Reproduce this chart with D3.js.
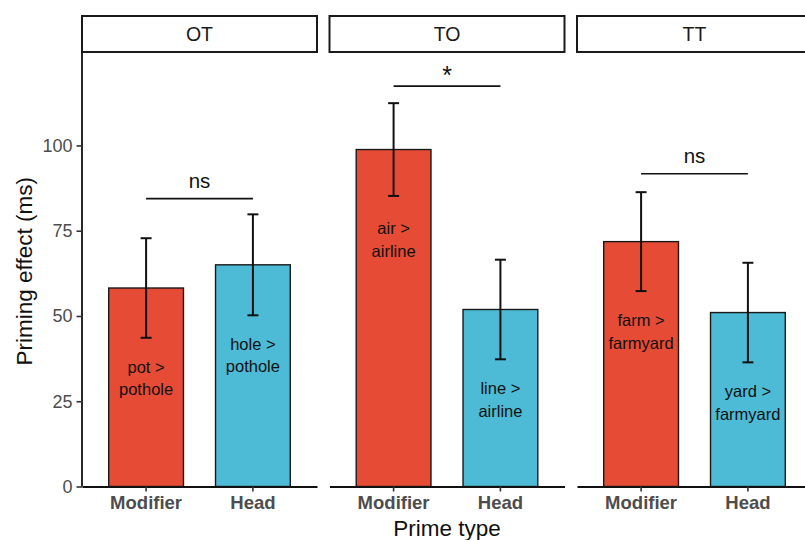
<!DOCTYPE html>
<html>
<head>
<meta charset="utf-8">
<script src="https://cdn.jsdelivr.net/npm/d3@7"></script>
<style>
  html, body { margin: 0; padding: 0; background: #fff; }
  svg { display: block; font-family: "Liberation Sans", Arial, Helvetica, sans-serif; }
</style>
</head>
<body>
<div id="chart"></div>
<script>
// Compound-word priming effects by prime type, faceted by transparency condition
const facets = ["OT", "TO", "TT"];
const primeTypes = ["Modifier", "Head"];
const modifierMeans = [58.2, 98.8, 71.8];
const headMeans = [65.0, 51.9, 51.0];
const modifierErr = [14.6, 13.6, 14.5];
const headErr = [14.8, 14.6, 14.6];
const modifierLabels = [["pot >", "pothole"], ["air >", "airline"], ["farm >", "farmyard"]];
const headLabels = [["hole >", "pothole"], ["line >", "airline"], ["yard >", "farmyard"]];
const sigLabels = ["ns", "*", "ns"];
const sigHeights = [84.4, 117.4, 91.7];
const yTicks = [0, 25, 50, 75, 100];

const fillColors = { Modifier: "#E64B35", Head: "#4DBBD5" };

const W = 805, H = 540;
const left = 82, panelW = 235, gap = 12.5;
const stripTop = 16, stripH = 36;
const panelTop = stripTop + stripH, panelBottom = 486.5;

const svg = d3.select("#chart").append("svg")
  .attr("width", W).attr("height", H);

const y = d3.scaleLinear().domain([0, 127.4]).range([panelBottom, panelTop]);

const x = d3.scaleBand().domain(primeTypes).range([0, panelW])
  .paddingInner(0.3).paddingOuter(0.25);

const data = facets.map((f, i) => ({
  facet: f,
  sig: sigLabels[i],
  sigY: sigHeights[i],
  bars: [
    { type: "Modifier", mean: modifierMeans[i], err: modifierErr[i], label: modifierLabels[i] },
    { type: "Head", mean: headMeans[i], err: headErr[i], label: headLabels[i] }
  ]
}));

const panels = svg.selectAll("g.panel").data(data).join("g")
  .attr("class", "panel")
  .attr("transform", (d, i) => `translate(${left + i * (panelW + gap)},0)`);

// strip headers
panels.append("rect")
  .attr("x", 0).attr("y", stripTop).attr("width", panelW).attr("height", stripH)
  .attr("fill", "#fff").attr("stroke", "#1a1a1a").attr("stroke-width", 2);
panels.append("text")
  .attr("x", panelW / 2).attr("y", stripTop + stripH / 2 + 0.5)
  .attr("dy", "0.35em").attr("text-anchor", "middle")
  .attr("font-size", 19.5).attr("fill", "#1a1a1a")
  .text(d => d.facet);

// bars
panels.selectAll("rect.bar").data(d => d.bars).join("rect")
  .attr("class", "bar")
  .attr("x", b => x(b.type)).attr("width", x.bandwidth())
  .attr("y", b => y(b.mean)).attr("height", b => y(0) - y(b.mean))
  .attr("fill", b => fillColors[b.type])
  .attr("stroke", "#1a1a1a").attr("stroke-width", 1.4);

// error bars
const capHalf = 5.5;
const eb = panels.selectAll("g.err").data(d => d.bars).join("g")
  .attr("class", "err")
  .attr("transform", b => `translate(${x(b.type) + x.bandwidth() / 2},0)`)
  .attr("stroke", "#111").attr("stroke-width", 2);
eb.append("line").attr("x1", 0).attr("x2", 0)
  .attr("y1", b => y(b.mean + b.err)).attr("y2", b => y(b.mean - b.err));
eb.append("line").attr("x1", -capHalf).attr("x2", capHalf)
  .attr("y1", b => y(b.mean + b.err)).attr("y2", b => y(b.mean + b.err));
eb.append("line").attr("x1", -capHalf).attr("x2", capHalf)
  .attr("y1", b => y(b.mean - b.err)).attr("y2", b => y(b.mean - b.err));

// word-pair labels inside bars
const lbl = panels.selectAll("text.pair").data(d => d.bars).join("text")
  .attr("class", "pair")
  .attr("text-anchor", "middle")
  .attr("font-size", 16.5).attr("fill", "#111");
lbl.selectAll("tspan").data(b => b.label.map(t => ({ t, b }))).join("tspan")
  .attr("x", o => x(o.b.type) + x.bandwidth() / 2)
  .attr("y", (o, j) => y(o.b.mean) + 79 + j * 22.5)
  .attr("dy", "0.35em")
  .text(o => o.t);

// significance brackets
panels.append("line")
  .attr("x1", x("Modifier") + x.bandwidth() / 2)
  .attr("x2", x("Head") + x.bandwidth() / 2)
  .attr("y1", d => y(d.sigY)).attr("y2", d => y(d.sigY))
  .attr("stroke", "#111").attr("stroke-width", 1.6);
panels.append("text")
  .attr("x", (x("Modifier") + x("Head") + x.bandwidth()) / 2)
  .attr("y", d => y(d.sigY) - (d.sig === "*" ? 2 : 11))
  .attr("text-anchor", "middle")
  .attr("font-size", d => d.sig === "*" ? 25 : 20.5)
  .attr("fill", "#111")
  .text(d => d.sig);

// x axes
panels.append("g")
  .attr("transform", `translate(0,${panelBottom})`)
  .call(d3.axisBottom(x).tickSizeInner(5).tickSizeOuter(0).tickPadding(4))
  .call(g => {
    g.select(".domain").attr("stroke", "#111").attr("stroke-width", 1.8);
    g.selectAll(".tick line").attr("stroke", "#333").attr("stroke-width", 1.6);
    g.selectAll(".tick text")
      .attr("font-size", 18.5).attr("font-weight", "bold")
      .attr("fill", "#4d4d4d")
      .attr("font-family", "'Liberation Sans', Arial, sans-serif");
  });

// y axis on the first panel
svg.append("g")
  .attr("transform", `translate(${left},0)`)
  .call(d3.axisLeft(y).tickValues(yTicks).tickSizeInner(5.5).tickSizeOuter(0).tickPadding(4))
  .call(g => {
    g.select(".domain").attr("stroke", "#111").attr("stroke-width", 1.8)
      .attr("d", `M0,${panelTop}V${panelBottom}`);
    g.selectAll(".tick line").attr("stroke", "#333").attr("stroke-width", 1.6);
    g.selectAll(".tick text")
      .attr("font-size", 18).attr("fill", "#4d4d4d")
      .attr("font-family", "'Liberation Sans', Arial, sans-serif");
  });

// axis titles
svg.append("text")
  .attr("transform", `translate(24,${(panelTop + panelBottom) / 2 + 2}) rotate(-90)`)
  .attr("text-anchor", "middle").attr("dy", "0.35em")
  .attr("font-size", 22.5).attr("fill", "#111")
  .text("Priming effect (ms)");
svg.append("text")
  .attr("x", left + panelW + gap + panelW / 2).attr("y", 536)
  .attr("text-anchor", "middle")
  .attr("font-size", 22.5).attr("fill", "#111")
  .text("Prime type");
</script>
</body>
</html>
